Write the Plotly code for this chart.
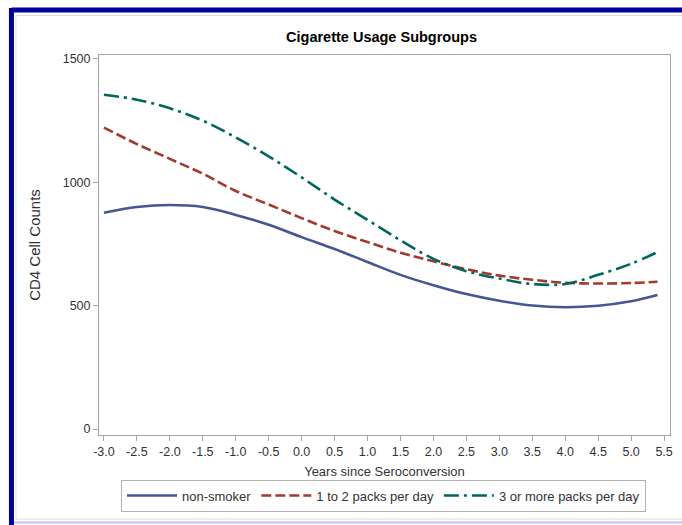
import plotly.graph_objects as go

# Years since seroconversion at which the fitted CD4 curves are evaluated
years = [-3.0, -2.5, -2.0, -1.5, -1.0, -0.5, 0.0, 0.5, 1.0, 1.5,
         2.0, 2.5, 3.0, 3.5, 4.0, 4.5, 5.0, 5.4]

non_smoker = [877, 900, 908, 900, 868, 828, 778, 730, 677, 625,
              583, 547, 520, 501, 494, 500, 518, 543]
one_to_two_packs = [1222, 1155, 1095, 1035, 965, 910, 855, 803, 758, 715,
                    680, 648, 622, 605, 593, 590, 592, 597]
three_plus_packs = [1355, 1335, 1300, 1250, 1182, 1105, 1020, 930, 848, 765,
                    690, 640, 610, 588, 588, 625, 670, 717]

series_names = ["non-smoker", "1 to 2 packs per day", "3 or more packs per day"]

x_tick_vals = [-3.0, -2.5, -2.0, -1.5, -1.0, -0.5, 0.0, 0.5, 1.0, 1.5,
               2.0, 2.5, 3.0, 3.5, 4.0, 4.5, 5.0, 5.5]
x_tick_labels = ["-3.0", "-2.5", "-2.0", "-1.5", "-1.0", "-0.5", "0.0", "0.5",
                 "1.0", "1.5", "2.0", "2.5", "3.0", "3.5", "4.0", "4.5",
                 "5.0", "5.5"]
y_tick_vals = [0, 500, 1000, 1500]

FONT = "Liberation Sans, Arial, sans-serif"
AXIS_GRAY = "#a6a6a6"
TEXT = "#333333"

fig = go.Figure()
styles = [
    dict(color="#445694", dash="solid"),
    dict(color="#A23A2E", dash="10px,4px"),
    dict(color="#01665E", dash="15px,5px,3px,5px"),
]
for name, values, st in zip(series_names,
                            [non_smoker, one_to_two_packs, three_plus_packs],
                            styles):
    fig.add_trace(go.Scatter(
        x=years, y=values, name=name, mode="lines",
        line=dict(color=st["color"], dash=st["dash"], width=2.6,
                  shape="spline", smoothing=1.0),
    ))

W, H = 682, 525
L, R, T, B = 99, 9, 55, 90
pw, ph = W - L - R, H - T - B


def px_x(p):
    return (p - L) / pw


def px_y(p):
    return (H - B - p) / ph


shapes = [
    # outer navy frame (left and top edges)
    dict(type="line", xref="paper", yref="paper",
         x0=px_x(11), x1=px_x(700), y0=px_y(10), y1=px_y(10),
         line=dict(color="#000099", width=5)),
    dict(type="line", xref="paper", yref="paper",
         x0=px_x(11), x1=px_x(11), y0=px_y(8), y1=px_y(540),
         line=dict(color="#000099", width=5)),
    # thin inner frame lines
    dict(type="line", xref="paper", yref="paper",
         x0=px_x(15.5), x1=px_x(700), y0=px_y(15.5), y1=px_y(15.5),
         line=dict(color="#dcdcdc", width=1)),
    dict(type="line", xref="paper", yref="paper",
         x0=px_x(15.5), x1=px_x(15.5), y0=px_y(15.5), y1=px_y(519),
         line=dict(color="#dcdcdc", width=1)),
    dict(type="line", xref="paper", yref="paper",
         x0=px_x(15.5), x1=px_x(700), y0=px_y(519), y1=px_y(519),
         line=dict(color="#dcdcdc", width=1)),
    dict(type="line", xref="paper", yref="paper",
         x0=px_x(13.5), x1=px_x(700), y0=px_y(522.5), y1=px_y(522.5),
         line=dict(color="#c4c4ec", width=2)),
]

fig.update_layout(
    width=W, height=H,
    margin=dict(l=L, r=R, t=T, b=B, pad=0),
    paper_bgcolor="white", plot_bgcolor="white",
    font=dict(family=FONT, size=12, color=TEXT),
    title=dict(text="<b>Cigarette Usage Subgroups</b>",
               x=px_x(383), xref="paper", xanchor="center",
               y=1 - 37 / H, yanchor="middle",
               font=dict(family=FONT, size=14.5, color="#000000")),
    xaxis=dict(
        range=[-3.075, 5.59], tickvals=x_tick_vals, ticktext=x_tick_labels,
        showgrid=False, zeroline=False, showline=True, mirror=True,
        linecolor=AXIS_GRAY, linewidth=1,
        ticks="outside", ticklen=5, tickcolor=AXIS_GRAY,
        tickfont=dict(family=FONT, size=12.5, color=TEXT),
        title=dict(text="Years since Seroconversion", standoff=8,
                   font=dict(family=FONT, size=13, color=TEXT)),
    ),
    yaxis=dict(
        range=[-24, 1516], tickvals=y_tick_vals,
        showgrid=False, zeroline=False, showline=True, mirror=True,
        linecolor=AXIS_GRAY, linewidth=1,
        ticks="outside", ticklen=5, tickcolor=AXIS_GRAY,
        tickfont=dict(family=FONT, size=12.5, color=TEXT),
        title=dict(text="CD4 Cell Counts", standoff=18,
                   font=dict(family=FONT, size=15, color=TEXT)),
    ),
    legend=dict(
        orientation="h", x=px_x(385), xanchor="center",
        y=px_y(495.5), yanchor="middle",
        bordercolor="#b0b0b0", borderwidth=1, bgcolor="white",
        font=dict(family=FONT, size=13, color=TEXT),
        itemwidth=50, tracegroupgap=0,
    ),
    shapes=shapes,
    showlegend=True,
)

fig.write_html("out.html")
